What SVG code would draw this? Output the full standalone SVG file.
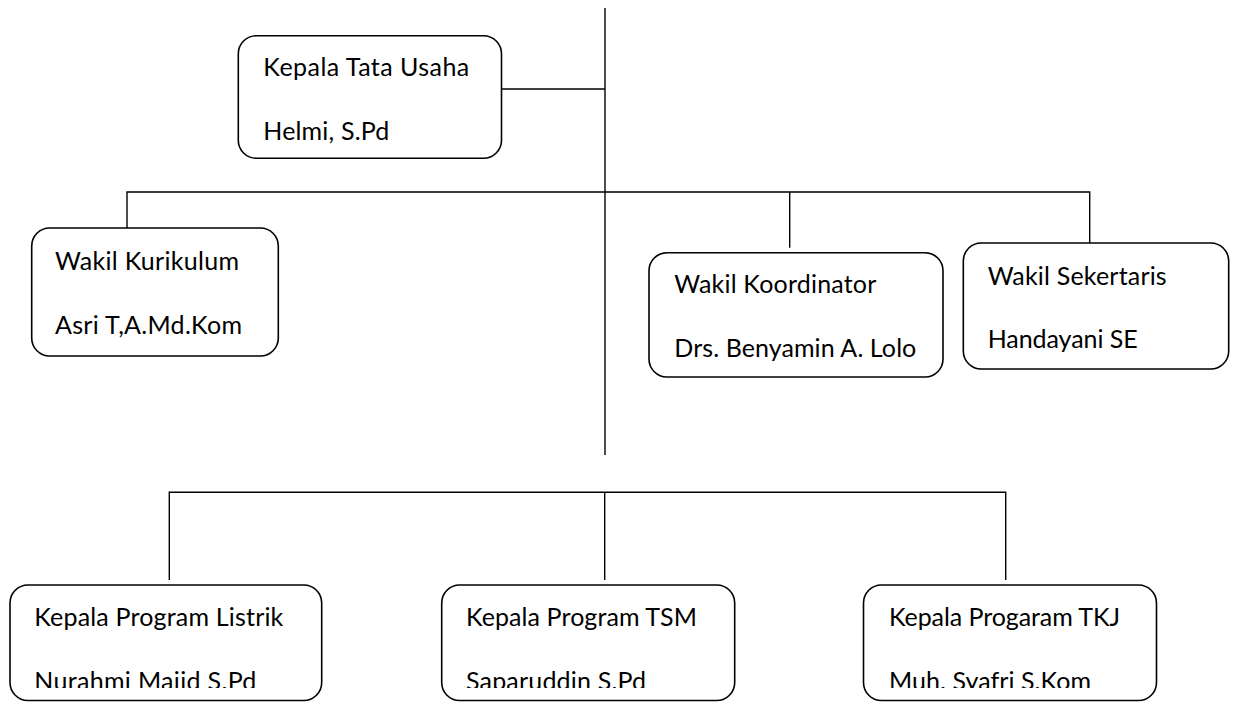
<svg xmlns="http://www.w3.org/2000/svg" width="1233" height="702" viewBox="0 0 1233 702">
<style>
.box{fill:#fff;stroke:#000;stroke-width:1.6}
.ln{fill:none;stroke:#000;stroke-width:1.4}
text{font-family:Lato,"Open Sans","Liberation Sans",sans-serif;font-size:25px;fill:#000}
</style>
<defs>
<clipPath id="clipBottom"><rect x="0" y="0" width="1233" height="688"/></clipPath>
</defs>
<rect width="1233" height="702" fill="#fff"/>
<g id="connectors">
<line class="ln" x1="605" y1="8" x2="605" y2="455"/>
<line class="ln" x1="501.5" y1="89" x2="605" y2="89"/>
<polyline class="ln" points="127,228 127,192 1089.7,192 1089.7,243"/>
<line class="ln" x1="789.7" y1="192" x2="789.7" y2="247.7"/>
<polyline class="ln" points="169.3,580 169.3,492.3 1005.7,492.3 1005.7,580"/>
<line class="ln" x1="604.7" y1="492.3" x2="604.7" y2="580"/>
</g>
<g id="kepala-tata-usaha">
<rect class="box" x="238.3" y="35.7" width="263.2" height="122.6" rx="18"/>
<text x="263.3" y="76" textLength="206">Kepala Tata Usaha</text>
<text x="263.3" y="140" textLength="126">Helmi, S.Pd</text>
</g>
<g id="wakil-kurikulum">
<rect class="box" x="31.7" y="228" width="246.6" height="128" rx="18"/>
<text x="55" y="270" textLength="184">Wakil Kurikulum</text>
<text x="55" y="334" textLength="187">Asri T,A.Md.Kom</text>
</g>
<g id="wakil-koordinator">
<rect class="box" x="649" y="252.7" width="294" height="124.3" rx="18"/>
<text x="674.3" y="293.3" textLength="202">Wakil Koordinator</text>
<text x="674.3" y="356.7" textLength="242">Drs. Benyamin A. Lolo</text>
</g>
<g id="wakil-sekertaris">
<rect class="box" x="963.3" y="243" width="265.4" height="126" rx="18"/>
<text x="987.7" y="285" textLength="179">Wakil Sekertaris</text>
<text x="987.7" y="348" textLength="150">Handayani SE</text>
</g>
<g id="kepala-program-listrik">
<rect class="box" x="10" y="585" width="311.7" height="115.5" rx="18"/>
<text x="34.3" y="625.7" textLength="249">Kepala Program Listrik</text>
<text x="34.3" y="690" textLength="222" clip-path="url(#clipBottom)">Nurahmi Majid S.Pd</text>
</g>
<g id="kepala-program-tsm">
<rect class="box" x="441.7" y="585" width="293" height="115.5" rx="18"/>
<text x="466" y="625.7" textLength="231">Kepala Program TSM</text>
<text x="466" y="690" textLength="180" clip-path="url(#clipBottom)">Saparuddin S.Pd</text>
</g>
<g id="kepala-program-tkj">
<rect class="box" x="863.5" y="585" width="293" height="115.5" rx="18"/>
<text x="889" y="625.7" textLength="231">Kepala Progaram TKJ</text>
<text x="889" y="690" textLength="202" clip-path="url(#clipBottom)">Muh. Syafri S.Kom</text>
</g>
</svg>
